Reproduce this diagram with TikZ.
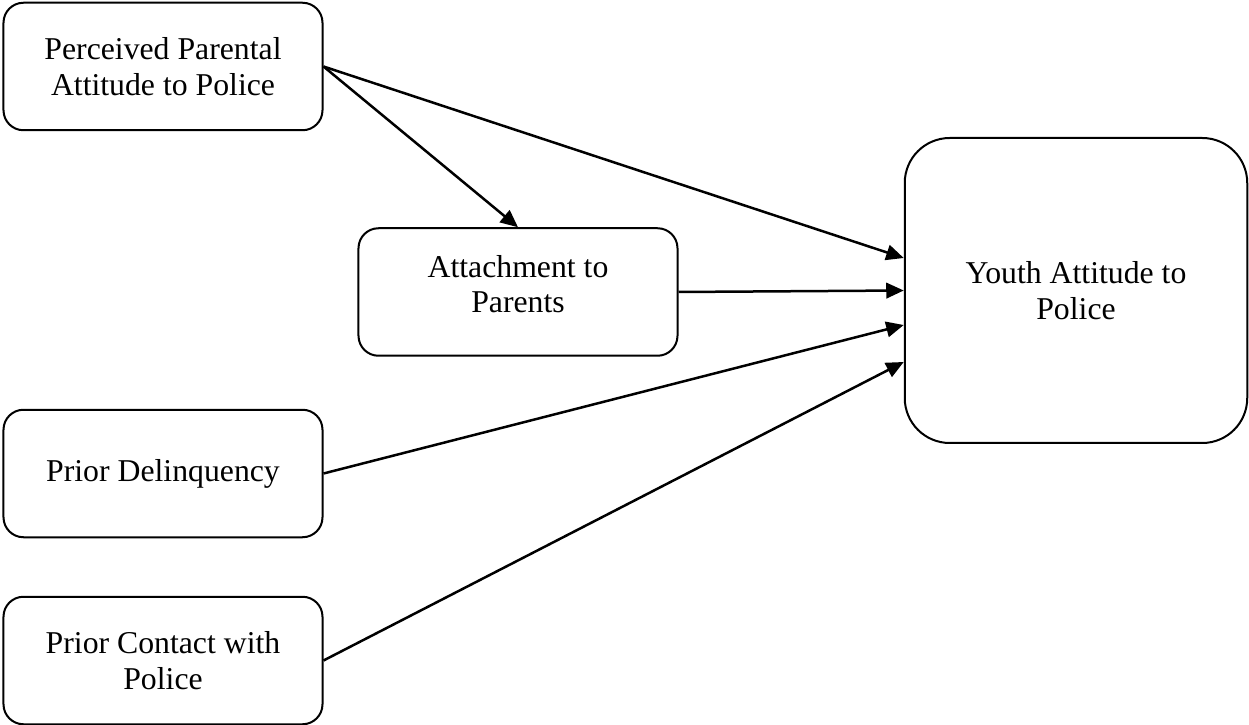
\documentclass[tikz,border=0pt]{standalone}
\usepackage{fontspec}
\setmainfont{Liberation Serif}
\usetikzlibrary{arrows.meta,positioning,calc}

\begin{document}
\begin{tikzpicture}[x=0.4pt,y=-0.4pt,node distance=5mm,>={Triangle[length=7pt,width=6.2pt]},
  box/.style={draw=black,line width=0.8pt,rounded corners=8pt,align=center,
  minimum width=127.6pt,minimum height=51pt,font=\fontsize{12.7}{14.2}\selectfont},
  link/.style={->,line width=1pt}]
\useasboundingbox (0,0) rectangle (1249,725);
\node[box] (par) at (163,66.5) {Perceived Parental\\Attitude to Police};
\node[box,below=111pt of par] (del) {Prior Delinquency};
\node[box,below=23pt of del] (con) {Prior Contact with\\Police};
\node[box] (att) at (518,292) {Attachment to\\Parents\\[-7.8pt]\mbox{}};
\node[box,minimum width=137pt,minimum height=122pt,rounded corners=18pt] (you) at (1076,290.5) {Youth Attitude to\\Police};
\draw[link] (par.east) -- ([yshift=13pt]you.west);
\draw[link] (par.east) -- (att.north);
\draw[link] (att.east) -- (you.west);
\draw[link] (del.east) -- ([yshift=-13.8pt]you.west);
\draw[link] (con.east) -- ([yshift=-28.6pt]you.west);
\end{tikzpicture}
\end{document}
